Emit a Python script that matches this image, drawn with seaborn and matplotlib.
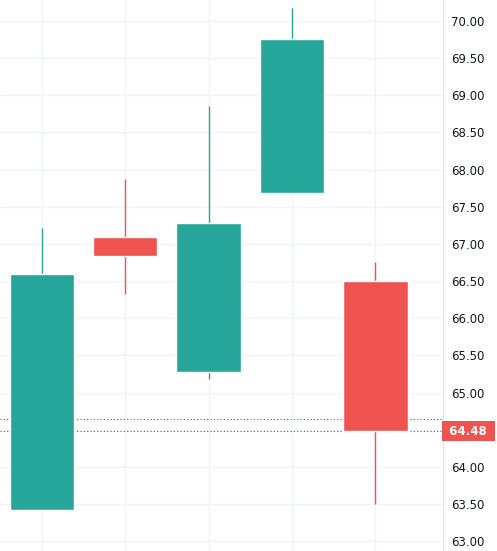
import numpy as np
import matplotlib
matplotlib.use("Agg")
import matplotlib.pyplot as plt
import seaborn as sns

# OHLC values
opens = [63.42, 67.09, 65.28, 67.68, 66.50]
highs = [67.22, 67.87, 68.85, 70.17, 66.75]
lows = [63.42, 66.33, 65.18, 67.68, 63.50]
closes = [66.59, 66.84, 67.28, 69.75, 64.48]
last_price = 64.48
other_line = 64.64
yticks = np.arange(63.0, 70.01, 0.5)

sns.set_style("white")
plt.rcParams["font.family"] = ["DejaVu Sans"]

up_color = "#26a69a"
down_color = "#ef5350"

fig = plt.figure(figsize=(4.97, 5.51), dpi=100)
ax = fig.add_axes([0, 0, 443 / 497, 1])

x = np.arange(len(opens))
colors = [up_color if c >= o else down_color for o, c in zip(opens, closes)]
bottoms = [min(o, c) for o, c in zip(opens, closes)]
heights = [abs(c - o) for o, c in zip(opens, closes)]

ax.vlines(x, lows, highs, colors=colors, linewidth=1, zorder=2)
ax.bar(x, heights, bottom=bottoms, width=0.77, color=colors, zorder=3)

ax.axhline(other_line, color="#555555", linestyle=(0, (1, 2)), linewidth=0.8, zorder=1)
ax.axhline(last_price, color="#555555", linestyle=(0, (1, 2)), linewidth=0.8, zorder=1)

ax.set_xlim(-0.5, 4.81)
ax.set_ylim(62.87, 70.28)
ax.set_xticks(x)
ax.set_xticklabels([])
ax.set_yticks(yticks)
# the 64.50 label sits under the last-price tag, so leave it blank
ax.set_yticklabels(["" if abs(v - 64.5) < 1e-6 else f"{v:.2f}" for v in yticks])
ax.yaxis.tick_right()
ax.tick_params(axis="y", length=0, pad=6, labelsize=8.5, labelcolor="#131722")
ax.tick_params(axis="x", length=0)
ax.grid(True, color="#f0f3fa", linewidth=1)
for s in ["top", "left", "bottom"]:
    ax.spines[s].set_visible(False)
ax.spines["right"].set_color("#e0e3eb")

ax.text(1.005, last_price, f" {last_price:.2f} ", transform=ax.get_yaxis_transform(),
        ha="left", va="center", fontsize=8.5, color="white", fontweight="bold",
        bbox=dict(boxstyle="square,pad=0.3", fc=down_color, ec="none"))

fig.savefig("out.png", dpi=100)
